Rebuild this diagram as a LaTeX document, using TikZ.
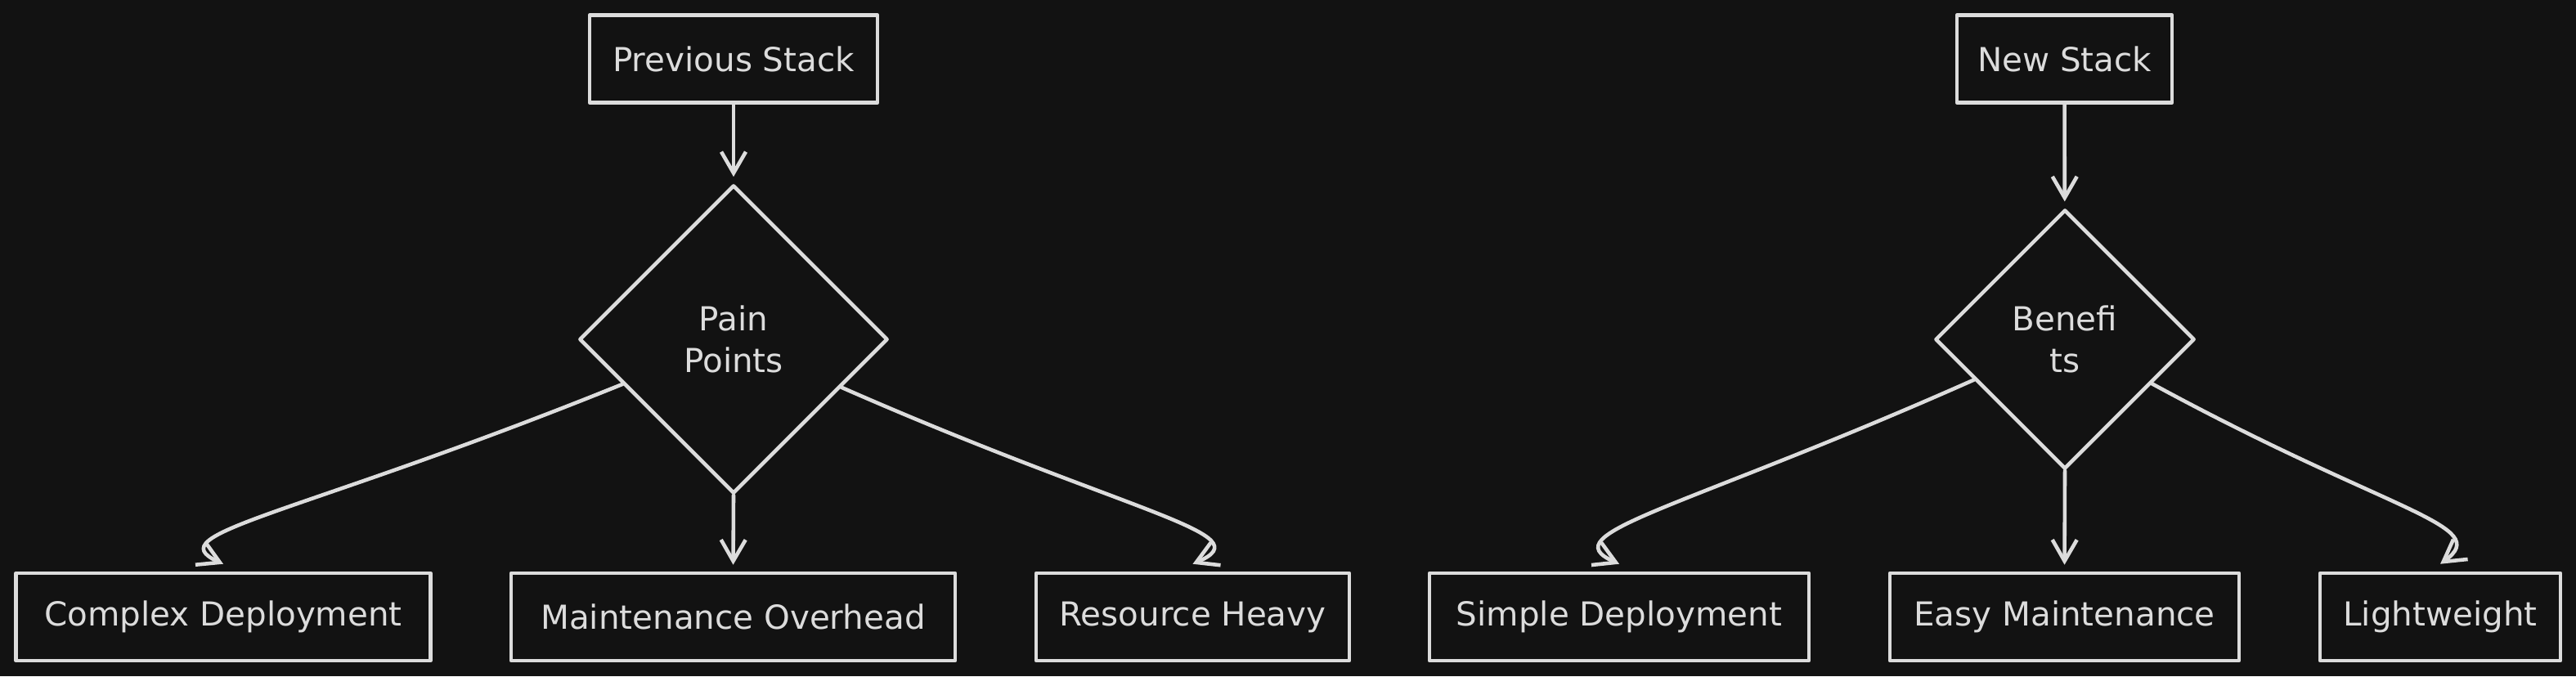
\documentclass[tikz,border=0pt]{standalone}
\usepackage{fontspec}
\setmainfont{DejaVu Sans}
\usetikzlibrary{shapes.geometric,arrows.meta}
\definecolor{bgdark}{HTML}{121212}
\definecolor{chalk}{HTML}{DCDCDC}
\begin{document}
\begin{tikzpicture}[line join=round, line cap=round,>={Straight Barb[length=2.6mm,width=3mm]},line width=1.3pt]
	\tikzset{every node/.style={text=chalk,font=\fontsize{11.5}{14.5}\selectfont},
		box/.style={draw=chalk,rectangle,minimum height=1.07cm,inner sep=0pt},
		choice/.style={draw=chalk,diamond,shape aspect=1,inner sep=0pt,align=center},
		link/.style={draw=chalk,->,shorten >=0.8mm}}
	\fill[bgdark] (0,0) rectangle (31.5,8.27);
	% stacks and their diamonds
	\node[box,minimum width=3.52cm] (prev) at (8.97,7.55) {Previous Stack};
	\node[box,minimum width=2.63cm] (new) at (25.245,7.55) {New Stack};
	\node[choice,minimum size=3.77cm] (pain) at (8.97,4.12) {Pain\\Points};
	\node[choice,minimum size=3.17cm] (benef) at (25.25,4.12) {Benefi\\ts};
	% bottom row
	\foreach \nm/\x/\w/\txt in {cplx/2.73/5.07/Complex Deployment,maint/8.965/5.43/Maintenance Overhead,resrc/14.585/3.83/Resource Heavy,simple/19.80/4.64/Simple Deployment,easy/25.245/4.27/Easy Maintenance,light/29.84/2.94/Lightweight}
		\node[box,minimum width=\w cm] (\nm) at (\x,0.725) {\txt};
	% connectors
	\draw[link] (prev) -- (pain);
	\draw[link] (new) -- (benef);
	\draw[link] (pain.south) -- (maint.north);
	\draw[link] (benef.south) -- (easy.north);
	\draw[link,shorten >=0pt] (pain.202) .. controls (3.6,1.95) and (1.9,1.75) .. ([yshift=0.9mm]cplx.north);
	\draw[link,shorten >=0pt] (pain.336) .. controls (13.87,1.96) and (15.45,1.75) .. ([yshift=0.9mm]resrc.north);
	\draw[link,shorten >=0pt] (benef.204) .. controls (20.55,2.03) and (18.95,1.75) .. ([yshift=0.9mm]simple.north);
	\draw[link,shorten >=0pt] (benef.333) .. controls (29.23,1.99) and (30.5,1.85) .. ([yshift=0.9mm]light.north);
\end{tikzpicture}
\end{document}
